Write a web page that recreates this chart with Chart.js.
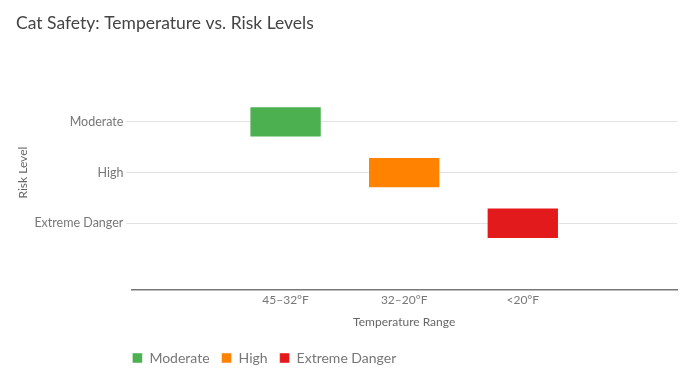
<!DOCTYPE html>
<html>
<head>
<meta charset="utf-8">
<script src="https://cdn.jsdelivr.net/npm/chart.js@4"></script>
<style>
  html, body { margin: 0; padding: 0; background: #fff; }
  #wrap { width: 692px; height: 380px; }
</style>
</head>
<body>
<div id="wrap"><canvas id="chart"></canvas></div>
<script>
// --- data ---
const riskLevels = ['Moderate', 'High', 'Extreme Danger'];
const tempRanges = ['45–32°F', '32–20°F', '<20°F'];
const seriesNames = ['Moderate', 'High', 'Extreme Danger'];
const seriesTemp = [0, 1, 2];   // index in tempRanges
const seriesRisk = [0, 1, 2];   // index in riskLevels
const seriesColors = ['#4caf50', '#ff8200', '#e31a1c'];

const HALF = 0.31; // half bar height in category units
const FONT = 'Lato';

const datasets = seriesNames.map((name, i) => ({
  label: name,
  data: [{ x: seriesTemp[i], y: [seriesRisk[i] - HALF, seriesRisk[i] + HALF] }],
  backgroundColor: seriesColors[i],
  borderColor: 'rgba(255,255,255,0.45)',
  borderWidth: 1,
  borderSkipped: false,
  barPercentage: 0.61,
  categoryPercentage: 1
}));

// legend starts at the plot's left edge
const legendShift = {
  id: 'legendShift',
  afterLayout(chart) {
    const lg = chart.legend;
    lg.left = chart.chartArea.left - lg.options.labels.padding + 1;
  }
};

new Chart(document.getElementById('chart'), {
  type: 'bar',
  data: { datasets },
  plugins: [legendShift],
  options: {
    responsive: true,
    maintainAspectRatio: false,
    animation: false,
    layout: { padding: { left: 16, right: 15, top: 0, bottom: 5 } },
    scales: {
      x: {
        type: 'linear',
        offset: false,
        min: -1.3, max: 3.3,
        stacked: true,
        afterBuildTicks: s => { s.ticks = tempRanges.map((_, i) => ({ value: i })); },
        ticks: {
          callback: v => tempRanges[v] ?? '',
          color: '#777', font: { family: FONT, size: 12 }, padding: 3,
          maxRotation: 0, autoSkip: false
        },
        grid: { display: false, drawTicks: false },
        border: { display: true, color: '#777', width: 1.5 },
        title: { display: true, text: 'Temperature Range', color: '#666', font: { family: FONT, size: 12 }, padding: { top: 4, bottom: 10 } }
      },
      y: {
        type: 'linear',
        reverse: true,
        min: -1.32, max: 3.32,
        afterBuildTicks: s => { s.ticks = riskLevels.map((_, i) => ({ value: i })); },
        ticks: {
          callback: v => riskLevels[v] ?? '',
          color: '#777', font: { family: FONT, size: 12.5 }, padding: 3
        },
        grid: { color: '#e2e2e2', tickLength: 5, drawTicks: true },
        border: { display: false },
        title: { display: true, text: 'Risk Level', color: '#666', font: { family: FONT, size: 12 }, padding: { top: 0, bottom: 1 } }
      }
    },
    plugins: {
      title: {
        display: true, text: 'Cat Safety: Temperature vs. Risk Levels',
        align: 'start', color: '#444',
        font: { family: FONT, size: 17.5, weight: 'normal' },
        padding: { top: 13, bottom: 21 }
      },
      legend: {
        position: 'bottom', align: 'start',
        labels: {
          boxWidth: 10, boxHeight: 10, padding: 12,
          color: '#777', font: { family: FONT, size: 14 }
        }
      },
      tooltip: { enabled: false }
    }
  }
});
</script>
</body>
</html>
